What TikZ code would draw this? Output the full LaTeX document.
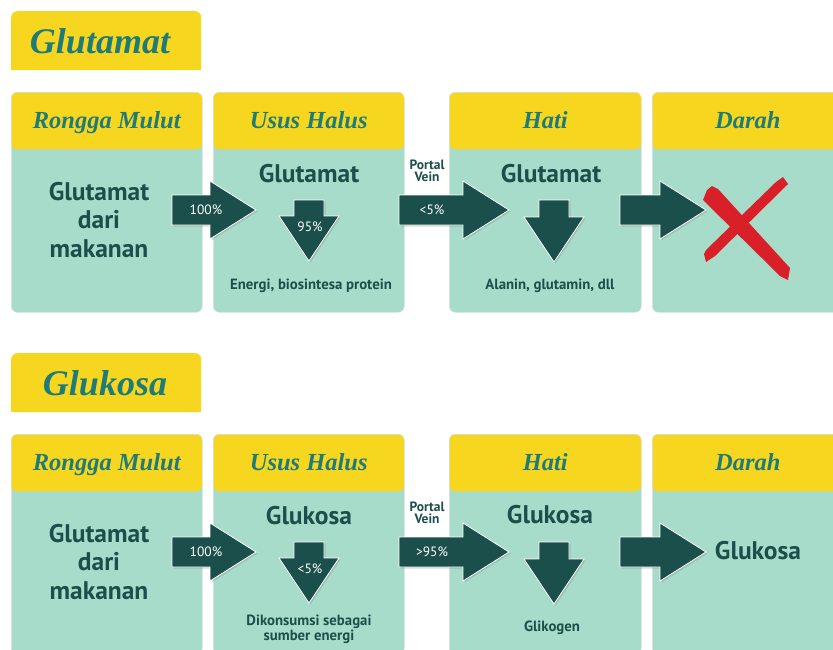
\documentclass[tikz,border=0pt]{standalone}
\usepackage{fontspec}
\setsansfont{PT Sans}
\newfontfamily\hdrfont{Liberation Serif}
\usetikzlibrary{calc,shadows}

\definecolor{hdryellow}{HTML}{F7D620}
\definecolor{mint}{HTML}{A8DCCA}
\definecolor{deepteal}{HTML}{1B4F4B}
\definecolor{titleteal}{HTML}{1F7B77}
\definecolor{crossred}{HTML}{D92029}

% block arrows: #1 tail, #2 tip
\newcommand{\rightblock}[2]{%
  \draw[blockarrow] ($(#1)+(0,-15)$) -- ($(#2)+(-46,-15)$) -- ($(#2)+(-46,-29)$) -- (#2)
    -- ($(#2)+(-46,29)$) -- ($(#2)+(-46,15)$) -- ($(#1)+(0,15)$) -- cycle;}
\newcommand{\downblock}[2]{%
  \draw[blockarrow] ($(#1)+(-15,0)$) -- ($(#1)+(15,0)$) -- ($(#2)+(15,-45)$) -- ($(#2)+(30,-45)$) -- (#2)
    -- ($(#2)+(-30,-45)$) -- ($(#2)+(-15,-45)$) -- cycle;}

\begin{document}
\begin{tikzpicture}
[x=1pt,y=-1pt,
stage/.style={anchor=north west,minimum width=191pt,minimum height=220pt,inner sep=0pt,
  rounded corners=6pt,fill=mint,draw=black!12,line width=0.5pt,
  path picture={\fill[hdryellow] (path picture bounding box.north west)
    rectangle ([yshift=-57pt]path picture bounding box.north east);}},
titlebox/.style={anchor=north west,minimum width=190pt,minimum height=59pt,inner sep=0pt,
  rounded corners=6pt,fill=hdryellow},
titletext/.style={font=\hdrfont\bfseries\itshape\fontsize{36}{40}\selectfont,text=titleteal,anchor=base,inner sep=0pt},
hdrtext/.style={font=\hdrfont\bfseries\itshape\fontsize{24.5}{28}\selectfont,text=titleteal,anchor=base,inner sep=0pt},
bigtext/.style={font=\sffamily\bfseries\fontsize{25.5}{28.5}\selectfont,text=deepteal,align=center,inner sep=0pt},
smalltext/.style={font=\sffamily\bfseries\fontsize{14.8}{12}\selectfont,text=deepteal,align=center,inner sep=0pt},
portal/.style={font=\sffamily\bfseries\fontsize{13.5}{12}\selectfont,text=deepteal,align=center,anchor=north,inner sep=0pt},
pcttext/.style={font=\sffamily\fontsize{13.5}{13}\selectfont,text=white,inner sep=0pt},
blockarrow/.style={fill=deepteal,draw=white,line width=0.8pt,
  drop shadow={opacity=0.3,shadow xshift=1.5pt,shadow yshift=-1.5pt}},
crossstroke/.style={fill=crossred}]
\useasboundingbox (0,0) rectangle (833,649);
\clip (0,0) rectangle (833,649);

% Glutamat
\node[titlebox] (ttl1) at (11,11) {};
\fill[hdryellow] ([yshift=8pt]ttl1.south west) rectangle (ttl1.south east);
\node[titletext] (ttltxt1) at (100,53) {Glutamat};

\node[stage] (rm1) at (11,92) {};
\node[stage] (uh1) at (213,92) {};
\node[stage,minimum width=192pt] (ht1) at (449,92) {};
\node[stage] (dr1) at (652,92) {};
\node[hdrtext] (rm1h) at ([yshift=-36pt]rm1.north) {Rongga Mulut};
\node[hdrtext] (uh1h) at ([yshift=-36pt]uh1.north) {Usus Halus};
\node[hdrtext] (ht1h) at ([yshift=-36pt]ht1.north) {Hati};
\node[hdrtext] (dr1h) at ([yshift=-36pt]dr1.north) {Darah};

\node[bigtext,anchor=north] (rm1t) at (99,182) {Glutamat\\dari\\makanan};
\node[bigtext,anchor=base] (uh1t) at (309,182) {Glutamat};
\node[bigtext,anchor=base] (ht1t) at (551,182) {Glutamat};
\node[smalltext,anchor=base] (uh1b) at (311,289) {Energi, biosintesa protein};
\node[smalltext,anchor=base] (ht1b) at (550,289) {Alanin, glutamin, dll};
\node[portal] (pv1) at (427,160) {Portal\\Vein};

\coordinate (a1s) at (172,210); \coordinate (a1e) at (256,210);
\coordinate (a2s) at (399,210); \coordinate (a2e) at (509,210);
\coordinate (a3s) at (620,210); \coordinate (a3e) at (706,210);
\coordinate (d1s) at (309,200); \coordinate (d1e) at (309,261);
\coordinate (d2s) at (554,200); \coordinate (d2e) at (554,262);
\rightblock{a1s}{a1e}
\rightblock{a2s}{a2e}
\rightblock{a3s}{a3e}
\downblock{d1s}{d1e}
\downblock{d2s}{d2e}
\node[pcttext] (p1) at (206,210) {100\%};
\node[pcttext] (p2) at (432,210) {<5\%};
\node[pcttext] (p3) at (310,227) {95\%};

% brush cross
\fill[crossstroke] (707,190) -- (712,186) -- (718,189) -- (790,268) -- (788,280) -- (780,276) -- (703,200) -- cycle;
\fill[crossstroke] (776,182) -- (783,177) -- (788,184) -- (715,256) -- (706,262) -- (704,254) -- (706,250) -- cycle;

% Glukosa
\node[titlebox] (ttl2) at (11,353) {};
\fill[hdryellow] ([yshift=8pt]ttl2.south west) rectangle (ttl2.south east);
\node[titletext] (ttltxt2) at (105,395) {Glukosa};

\node[stage] (rm2) at (11,434) {};
\node[stage] (uh2) at (213,434) {};
\node[stage,minimum width=192pt] (ht2) at (449,434) {};
\node[stage] (dr2) at (652,434) {};
\node[hdrtext] (rm2h) at ([yshift=-36pt]rm2.north) {Rongga Mulut};
\node[hdrtext] (uh2h) at ([yshift=-36pt]uh2.north) {Usus Halus};
\node[hdrtext] (ht2h) at ([yshift=-36pt]ht2.north) {Hati};
\node[hdrtext] (dr2h) at ([yshift=-36pt]dr2.north) {Darah};

\node[bigtext,anchor=north] (rm2t) at (99,524) {Glutamat\\dari\\makanan};
\node[bigtext,anchor=base] (uh2t) at (309,524) {Glukosa};
\node[bigtext,anchor=base] (ht2t) at (550,523) {Glukosa};
\node[bigtext,anchor=base] (dr2t) at (758,559) {Glukosa};
\node[smalltext,anchor=north] (uh2b) at (309,615) {Dikonsumsi sebagai\\sumber energi};
\node[smalltext,anchor=base] (ht2b) at (552,631) {Glikogen};
\node[portal] (pv2) at (427,502) {Portal\\Vein};

\coordinate (b1s) at (172,552); \coordinate (b1e) at (256,552);
\coordinate (b2s) at (399,552); \coordinate (b2e) at (509,552);
\coordinate (b3s) at (620,552); \coordinate (b3e) at (706,552);
\coordinate (e1s) at (309,542); \coordinate (e1e) at (309,603);
\coordinate (e2s) at (554,542); \coordinate (e2e) at (554,604);
\rightblock{b1s}{b1e}
\rightblock{b2s}{b2e}
\rightblock{b3s}{b3e}
\downblock{e1s}{e1e}
\downblock{e2s}{e2e}
\node[pcttext] (q1) at (206,552) {100\%};
\node[pcttext] (q2) at (432,552) {>95\%};
\node[pcttext] (q3) at (310,569) {<5\%};
\end{tikzpicture}
\end{document}
